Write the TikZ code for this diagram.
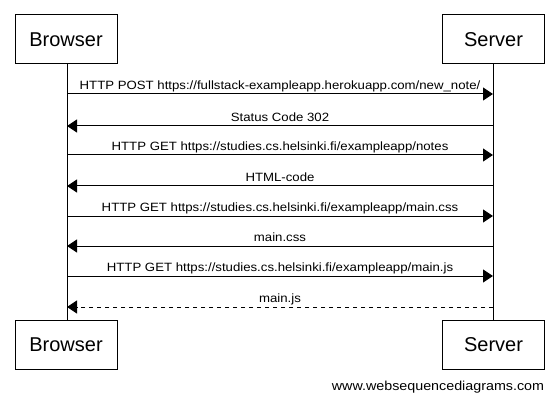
\documentclass[tikz,border=0pt]{standalone}
\usepackage{fontspec}
\setmainfont{Liberation Sans}
\newfontfamily\msgfont[FakeStretch=1.1]{Liberation Sans}
\usetikzlibrary{arrows.meta}
\begin{document}
\begin{tikzpicture}[x=1pt,y=-1pt,
  actor/.style={draw,line width=1pt,minimum width=102pt,minimum height=49pt,inner sep=0pt,font=\fontsize{20}{24}\selectfont,fill=white},
  msg/.style={line width=1pt,-{Triangle[length=10pt,width=13pt]}},
  reply/.style={msg,dash pattern=on 4pt off 4pt},
  lbl/.style={font=\msgfont\fontsize{12}{14}\selectfont,inner sep=0pt,anchor=base}]
\useasboundingbox (0,0) rectangle (553,403);
\node[actor] (bt) at (66,39.5) {Browser};
\node[actor] (st) at (493.5,39.5) {Server};
\node[actor] (bb) at (66,345) {Browser};
\node[actor] (sb) at (493.5,345) {Server};
\draw[line width=1pt] (bt.south -| 67,0) -- (bb.north -| 67,0);
\draw[line width=1pt] (st.south -| 493,0) -- (sb.north -| 493,0);
\coordinate (b1) at (67,94);  \coordinate (s1) at (493,94);
\coordinate (b2) at (67,126); \coordinate (s2) at (493,126);
\coordinate (b3) at (67,155); \coordinate (s3) at (493,155);
\coordinate (b4) at (67,186); \coordinate (s4) at (493,186);
\coordinate (b5) at (67,216); \coordinate (s5) at (493,216);
\coordinate (b6) at (67,246); \coordinate (s6) at (493,246);
\coordinate (b7) at (67,276); \coordinate (s7) at (493,276);
\coordinate (b8) at (67,307); \coordinate (s8) at (493,307);
\draw[msg] (b1) -- (s1) node[lbl,midway,yshift=4.5pt] {HTTP POST https://fullstack-exampleapp.herokuapp.com/new\_note/};
\draw[msg] (s2) -- (b2) node[lbl,midway,yshift=4.5pt] {Status Code 302};
\draw[msg] (b3) -- (s3) node[lbl,midway,yshift=4.5pt] {HTTP GET https://studies.cs.helsinki.fi/exampleapp/notes};
\draw[msg] (s4) -- (b4) node[lbl,midway,yshift=4.5pt] {HTML-code};
\draw[msg] (b5) -- (s5) node[lbl,midway,yshift=4.5pt] {HTTP GET https://studies.cs.helsinki.fi/exampleapp/main.css};
\draw[msg] (s6) -- (b6) node[lbl,midway,yshift=4.5pt] {main.css};
\draw[msg] (b7) -- (s7) node[lbl,midway,yshift=4.5pt] {HTTP GET https://studies.cs.helsinki.fi/exampleapp/main.js};
\draw[reply] (s8) -- (b8) node[lbl,midway,yshift=4.5pt] {main.js};
\node[font=\msgfont\fontsize{13}{15}\selectfont,inner sep=0pt] (wm) at (438,387) {www.websequencediagrams.com};
\end{tikzpicture}
\end{document}
